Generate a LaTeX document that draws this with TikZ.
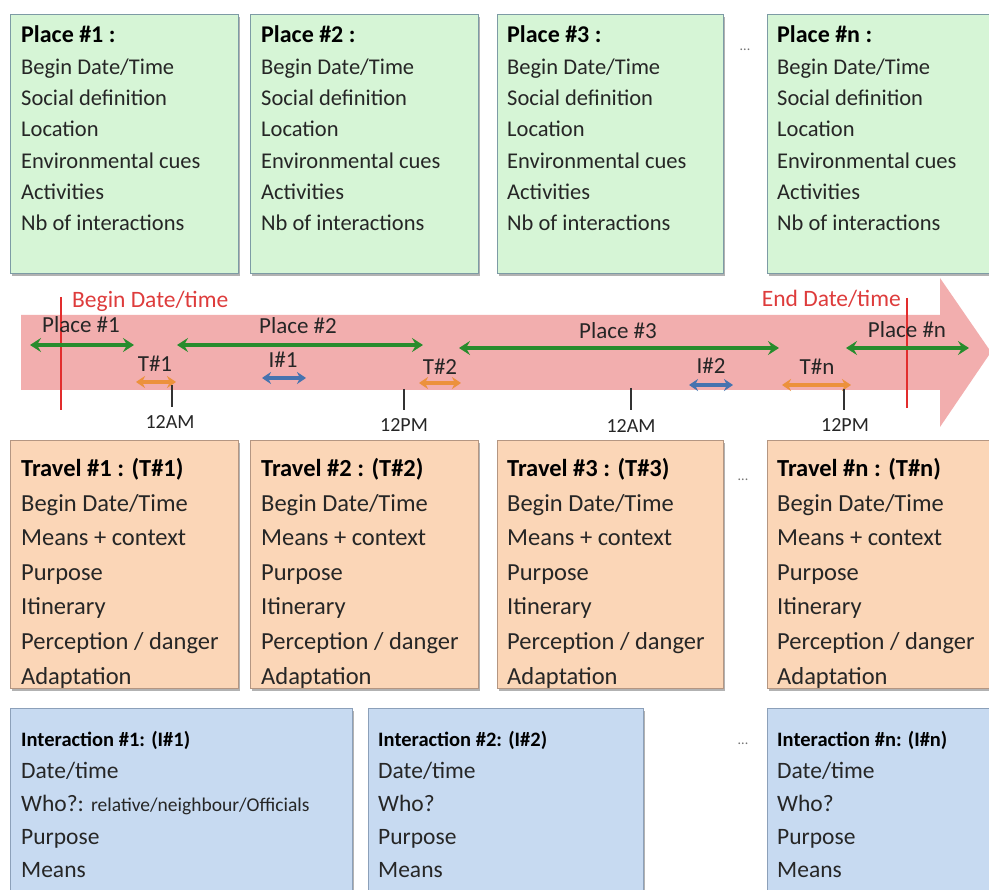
\documentclass[tikz,border=0pt]{standalone}
\usepackage{fontspec}
\setmainfont{Carlito}
\usetikzlibrary{shadows,arrows.meta}
\definecolor{gfill}{RGB}{214,245,214}
\definecolor{gdraw}{RGB}{125,155,165}
\definecolor{ofill}{RGB}{251,214,183}
\definecolor{odraw}{RGB}{180,150,130}
\definecolor{bfill}{RGB}{199,218,241}
\definecolor{bdraw}{RGB}{140,160,185}
\definecolor{bandc}{RGB}{242,174,174}
\definecolor{redl}{RGB}{226,45,45}
\definecolor{redt}{RGB}{222,60,60}
\definecolor{garr}{RGB}{40,140,45}
\definecolor{oarr}{RGB}{236,145,60}
\definecolor{barr}{RGB}{70,115,175}
\definecolor{txt}{RGB}{38,38,38}
\tikzset{
  shad/.style={drop shadow={shadow xshift=1.5pt, shadow yshift=-2.5pt, opacity=0.3, fill=black}},
  gbox/.style={draw=gdraw, fill=gfill, line width=1pt, anchor=north west, inner sep=0pt, shad},
  obox/.style={draw=odraw, fill=ofill, line width=1pt, anchor=north west, inner sep=0pt, shad},
  ibox/.style={draw=bdraw, fill=bfill, line width=1pt, anchor=north west, inner sep=0pt, shad},
  ptext/.style={anchor=base west, inner sep=0pt, text=txt, font=\fontsize{22.5}{27}\selectfont},
  ptitle/.style={anchor=base west, inner sep=0pt, text=black, font=\fontsize{24}{28}\selectfont\bfseries},
  ttext/.style={anchor=base west, inner sep=0pt, text=txt, font=\fontsize{24.5}{29}\selectfont},
  ttitle/.style={anchor=base west, inner sep=0pt, text=black, font=\fontsize{24.5}{29}\selectfont\bfseries},
  itext/.style={anchor=base west, inner sep=0pt, text=txt, font=\fontsize{23.5}{28}\selectfont},
  ititle/.style={anchor=base west, inner sep=0pt, text=black, font=\fontsize{20.5}{25}\selectfont\bfseries},
  blabel/.style={inner sep=0pt, text=txt, font=\fontsize{23}{27}\selectfont},
  tlabel/.style={inner sep=0pt, text=txt, font=\fontsize{20}{24}\selectfont},
  rlabel/.style={inner sep=0pt, text=redt, font=\fontsize{23.5}{28}\selectfont},
  dots/.style={inner sep=0pt, text=black!55, font=\fontsize{14}{16}\selectfont},
  garrow/.style={draw=garr, line width=3.4pt, {Stealth[length=11pt,width=14pt,inset=4pt]}-{Stealth[length=11pt,width=14pt,inset=4pt]}},
  oarrow/.style={draw=oarr, line width=4pt, {Stealth[length=9pt,width=12pt,inset=3pt]}-{Stealth[length=9pt,width=12pt,inset=3pt]}},
  barrow/.style={draw=barr, line width=3.6pt, {Stealth[length=9pt,width=12pt,inset=3pt]}-{Stealth[length=9pt,width=12pt,inset=3pt]}},
  redline/.style={draw=redl, line width=2pt},
  tick/.style={draw=black!80, line width=2pt},
}
\begin{document}
\begin{tikzpicture}[x=1pt,y=-1pt]
\clip (0,0) rectangle (989,890);
\fill[white] (0,0) rectangle (989,890);

% ---------- Place boxes ----------
\node[gbox, minimum width=228pt, minimum height=259pt] (P1) at (10,14) {};
\node[gbox, minimum width=228pt, minimum height=259pt] (P2) at (250,14) {};
\node[gbox, minimum width=226pt, minimum height=259pt] (P3) at (497,14) {};
\node[gbox, minimum width=240pt, minimum height=259pt] (Pn) at (767,14) {};
\node[ptitle] (P1t) at (21,43) {Place \#1 :};
\node[ptitle] (P2t) at (261,43) {Place \#2 :};
\node[ptitle] (P3t) at (507,43) {Place \#3 :};
\node[ptitle] (Pnt) at (777,43) {Place \#n :};
\foreach \id/\x in {1/21,2/261,3/507,n/777}{
  \foreach \l [count=\k] in {Begin Date/Time, Social definition, Location, Environmental cues, Activities, Nb of interactions}{
    \node[ptext] (P\id l\k) at (\x,{43+31.3*\k}) {\l};
  }
}
\node[dots] (Pdots) at (745,50) {...};

% ---------- Timeline band ----------
\fill[bandc] (21,315) -- (940,315) -- (940,278) -- (991,352) -- (940,427) -- (940,390) -- (21,390) -- cycle;

\coordinate (rb1) at (61,297); \coordinate (rb2) at (61,410);
\coordinate (re1) at (907,298); \coordinate (re2) at (907,408);
\draw[redline] (rb1) -- (rb2);
\draw[redline] (re1) -- (re2);
\node[rlabel, anchor=west] (begin) at (72,301) {Begin Date/time};
\node[rlabel, anchor=east] (end) at (901,299) {End Date/time};

% green place arrows
\coordinate (g1a) at (30,345); \coordinate (g1b) at (134,345);
\coordinate (g2a) at (177,345); \coordinate (g2b) at (423,345);
\coordinate (g3a) at (459,348); \coordinate (g3b) at (779,348);
\coordinate (gna) at (846,348); \coordinate (gnb) at (969,348);
\draw[garrow] (g1a) -- (g1b);
\draw[garrow] (g2a) -- (g2b);
\draw[garrow] (g3a) -- (g3b);
\draw[garrow] (gna) -- (gnb);
\node[blabel] (lp1) at (81,325) {Place \#1};
\node[blabel] (lp2) at (298,326) {Place \#2};
\node[blabel] (lp3) at (618,331) {Place \#3};
\node[blabel] (lpn) at (907,330) {Place \#n};

% orange travel arrows
\coordinate (t1a) at (136,382); \coordinate (t1b) at (176,382);
\coordinate (t2a) at (419,383); \coordinate (t2b) at (461,383);
\coordinate (tna) at (782,385); \coordinate (tnb) at (851,385);
\draw[oarrow] (t1a) -- (t1b);
\draw[oarrow] (t2a) -- (t2b);
\draw[oarrow] (tna) -- (tnb);
\node[blabel] (lt1) at (155,364) {T\#1};
\node[blabel] (lt2) at (440,367) {T\#2};
\node[blabel] (ltn) at (817,367) {T\#n};

% blue interaction arrows
\coordinate (i1a) at (262,378); \coordinate (i1b) at (306,378);
\coordinate (i2a) at (689,385); \coordinate (i2b) at (733,385);
\draw[barrow] (i1a) -- (i1b);
\draw[barrow] (i2a) -- (i2b);
\node[blabel] (li1) at (283,360) {I\#1};
\node[blabel] (li2) at (711,366) {I\#2};

% ticks
\coordinate (k1a) at (172,385); \coordinate (k1b) at (172,407);
\coordinate (k2a) at (404,389); \coordinate (k2b) at (404,410);
\coordinate (k3a) at (631,388); \coordinate (k3b) at (631,410);
\coordinate (k4a) at (844,389); \coordinate (k4b) at (844,410);
\draw[tick] (k1a) -- (k1b);
\draw[tick] (k2a) -- (k2b);
\draw[tick] (k3a) -- (k3b);
\draw[tick] (k4a) -- (k4b);
\node[tlabel] (am1) at (170,422) {12AM};
\node[tlabel] (pm1) at (404,425) {12PM};
\node[tlabel] (am2) at (631,426) {12AM};
\node[tlabel] (pm2) at (845,425) {12PM};

% ---------- Travel boxes ----------
\node[obox, minimum width=228pt, minimum height=248pt] (T1) at (10,440) {};
\node[obox, minimum width=228pt, minimum height=248pt] (T2) at (250,440) {};
\node[obox, minimum width=226pt, minimum height=248pt] (T3) at (497,440) {};
\node[obox, minimum width=240pt, minimum height=248pt] (Tn) at (767,440) {};
\node[ttitle] (T1t) at (21,477) {Travel \#1 : (T\#1)};
\node[ttitle] (T2t) at (261,477) {Travel \#2 : (T\#2)};
\node[ttitle] (T3t) at (507,477) {Travel \#3 : (T\#3)};
\node[ttitle] (Tnt) at (777,477) {Travel \#n : (T\#n)};
\foreach \id/\x in {1/21,2/261,3/507,n/777}{
  \foreach \l [count=\k] in {Begin Date/Time, Means + context, Purpose, Itinerary, Perception / danger, Adaptation}{
    \node[ttext] (T\id l\k) at (\x,{477+34.5*\k}) {\l};
  }
}
\node[dots] (Tdots) at (743,480) {...};

% ---------- Interaction boxes ----------
\node[ibox, minimum width=342pt, minimum height=200pt] (I1) at (10,708) {};
\node[ibox, minimum width=275pt, minimum height=200pt] (I2) at (368,708) {};
\node[ibox, minimum width=240pt, minimum height=200pt] (In) at (767,708) {};
\node[ititle] (I1t) at (21,746) {Interaction \#1: (I\#1)};
\node[ititle] (I2t) at (378,746) {Interaction \#2: (I\#2)};
\node[ititle] (Int) at (777,746) {Interaction \#n: (I\#n)};
\node[itext] (I1l1) at (21,778) {Date/time};
\node[itext] (I1l2) at (21,811) {Who?: {\fontsize{19.5}{24}\selectfont relative/neighbour/Officials}};
\node[itext] (I1l3) at (21,844) {Purpose};
\node[itext] (I1l4) at (21,877) {Means};
\foreach \id/\x in {2/378,n/777}{
  \foreach \l [count=\k] in {Date/time, Who?, Purpose, Means}{
    \node[itext] (I\id l\k) at (\x,{745+33*\k}) {\l};
  }
}
\node[dots] (Idots) at (743,744) {...};
\end{tikzpicture}
\end{document}
